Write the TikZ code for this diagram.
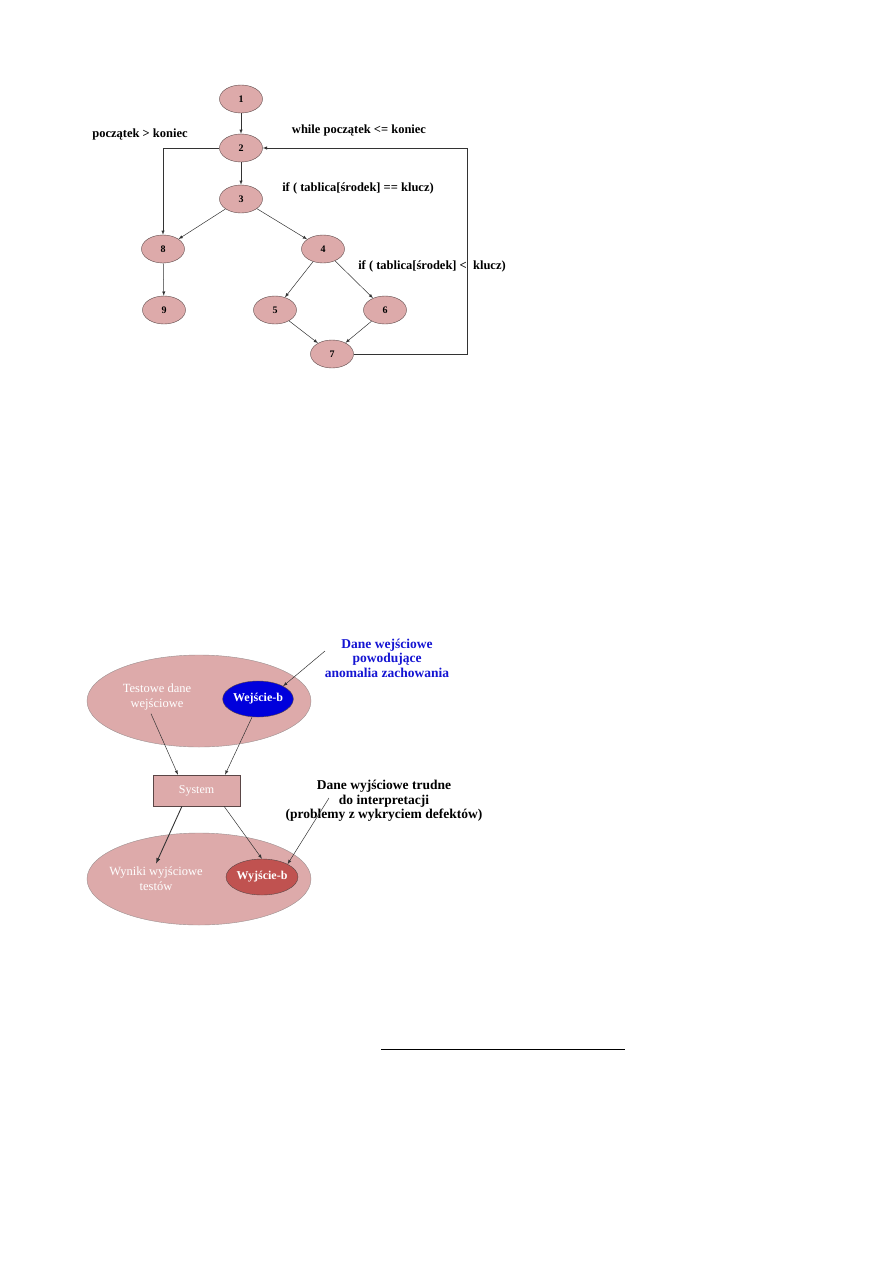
\documentclass[tikz,border=0pt]{standalone}
\usepackage{fontspec}
\setmainfont{Liberation Serif}
\usetikzlibrary{shapes.geometric,arrows}

\definecolor{rosefill}{RGB}{221,170,170}
\definecolor{rosedraw}{RGB}{90,70,70}
\definecolor{inblue}{RGB}{0,0,220}
\definecolor{outred}{RGB}{192,82,80}
\definecolor{notetext}{RGB}{20,20,210}

\begin{document}
\begin{tikzpicture}[
  x=1pt, y=-1pt,
  font=\bfseries\fontsize{12.5}{14}\selectfont,
  vertex/.style={ellipse, draw=rosedraw, fill=rosefill, minimum width=43pt,
                 minimum height=28pt, inner sep=0pt, font=\bfseries\fontsize{10}{12}\selectfont},
  bigset/.style={ellipse, draw=rosedraw!60, fill=rosefill, minimum width=224pt,
                 minimum height=92pt, inner sep=0pt},
  subset/.style={ellipse, draw=rosedraw, minimum width=60pt, minimum height=36pt,
                 inner sep=0pt, text=white, font=\bfseries\fontsize{12}{14}\selectfont},
  settext/.style={text=white, align=center, font=\fontsize{12.5}{15}\selectfont},
  note/.style={align=center, font=\bfseries\fontsize{13.5}{14.5}\selectfont},
  flow/.style={-latex, draw=black!80, line width=0.5pt}
]
\useasboundingbox (0,0) rectangle (893,1263);

% control flow graph
\node[vertex] (n1) at (241,99)  {1};
\node[vertex] (n2) at (241,148) {2};
\node[vertex] (n3) at (241,199) {3};
\node[vertex] (n8) at (163,249) {8};
\node[vertex] (n4) at (323,249) {4};
\node[vertex] (n9) at (164,310) {9};
\node[vertex] (n5) at (275,310) {5};
\node[vertex] (n6) at (385,310) {6};
\node[vertex] (n7) at (332,354) {7};
\coordinate (loopc) at (467,148);

\node (lexit)  at (140,134) {początek > koniec};
\node (lwhile) at (359,130) {while początek <= koniec};
\node (lfound) at (358,188) {if ( tablica[środek] == klucz)};
\node (lless)  at (432,266) {if ( tablica[środek] <\ \ klucz)};

\draw[flow] (n1) -- (n2);
\draw[flow] (n2) -- (n3);
\draw[flow] (n2.west) -| (n8.north);
\draw[flow] (n3) -- (n8);
\draw[flow] (n3) -- (n4);
\draw[flow] (n8) -- (n9);
\draw[flow] (n4) -- (n5);
\draw[flow] (n4) -- (n6);
\draw[flow] (n5) -- (n7);
\draw[flow] (n6) -- (n7);
\draw[flow] (n7.east) -| (loopc) -- (n2.east);

% test data sets
\node[bigset] (inset)  at (199,701) {};
\node[bigset] (outset) at (199,879) {};
\node[subset, fill=inblue] (inb)  at (258,699) {Wejście-b};
\node[subset, fill=outred] (outb) at (262,877) {Wyjście-b};
\node[settext] (intxt)  at (157,697) {Testowe dane\\wejściowe};
\node[settext] (outtxt) at (156,879) {Wyniki wyjściowe\\testów};
\node[rectangle, draw=rosedraw, fill=rosefill, minimum width=87pt, minimum height=31pt,
      text=white, font=\fontsize{12}{14}\selectfont] (sys) at (196.5,790.5) {System};

\node[note, text=notetext] (innote) at (387,658)
  {Dane wejściowe\\powodujące\\anomalia zachowania};
\node[note] (outnote) at (384,801)
  {Dane wyjściowe trudne\\do interpretacji\\(problemy z wykryciem defektów)};
\coordinate (intail)  at (325,651);
\coordinate (outtail) at (329,798);

\draw[flow] (intail) -- (inb.north east);
\draw[flow] (outtail) -- (outb.north east);
\draw[flow] ([xshift=-6pt]intxt.south) -- ([xshift=-18.5pt]sys.north);
\draw[flow] ([xshift=-6pt]inb.south) -- ([xshift=28.5pt]sys.north);
\draw[flow, line width=0.9pt] ([xshift=-14.5pt]sys.south) -- (outtxt.north);
\draw[flow] ([xshift=27.5pt]sys.south) -- (outb.north);

% footnote rule
\coordinate (rulel) at (381,1049);
\coordinate (ruler) at (625,1049);
\draw[line width=0.8pt] (rulel) -- (ruler);
\end{tikzpicture}
\end{document}
